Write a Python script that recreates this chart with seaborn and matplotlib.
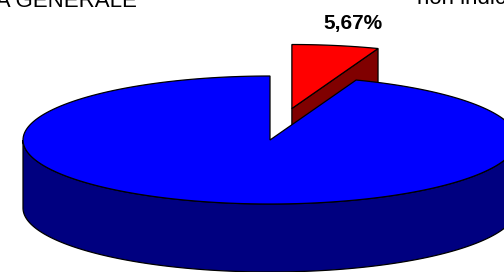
import numpy as np
import matplotlib.pyplot as plt
import seaborn as sns

# data (clockwise from 12 o'clock)
categorie = ["quota", "resto"]
valori = [5.67, 94.33]
etichette = ["5,67%", ""]
colori_top = ["#FF0000", "#0000FF"]
colori_lato = ["#800000", "#000080"]
esploso = [0.5, 0.0]

titolo_sx = "MEDIA GENERALE"
titolo_dx = "non indicato"

sns.set_theme(style="white")
plt.rcParams['font.family'] = ['Liberation Sans', 'DejaVu Sans']

# pie geometry in pixel units
cx, cy = 270, 140
rx, ry = 247, 64
depth = 68


def rim(theta, dx=0.0, dy=0.0, down=0.0):
    # theta in degrees, clockwise from 12 o'clock
    t = np.radians(theta)
    return cx + dx + rx * np.sin(t), cy + dy - ry * np.cos(t) + down


fig = plt.figure(figsize=(5.04, 2.72), dpi=100)
ax = fig.add_axes([0, 0, 1, 1])
ax.set_xlim(0, 504)
ax.set_ylim(272, 0)
ax.axis('off')

angoli = np.cumsum([0] + [v / sum(valori) * 360 for v in valori])
for i in range(len(valori)):
    a0, a1 = angoli[i], angoli[i + 1]
    mid = np.radians((a0 + a1) / 2)
    ox = esploso[i] * rx * np.sin(mid)
    oy = -esploso[i] * ry * np.cos(mid)
    th = np.linspace(a0, a1, 200)
    z = 1 + 2 * (esploso[i] == 0)

    # front wall (rim between 90 and 270 deg)
    lo, hi = max(a0, 90), min(a1, 270)
    if lo < hi:
        tw = np.linspace(lo, hi, 200)
        xt, yt = rim(tw, ox, oy)
        xb, yb = rim(tw[::-1], ox, oy, depth)
        ax.fill(np.r_[xt, xb], np.r_[yt, yb], color=colori_lato[i],
                ec='black', lw=0.9, zorder=z)

    # cut face at the end angle, turned toward the viewer
    if 0 < a1 < 180:
        x1, y1 = rim(a1, ox, oy)
        px = [cx + ox, x1, x1, cx + ox]
        py = [cy + oy, y1, y1 + depth, cy + oy + depth]
        ax.fill(px, py, color=colori_lato[i], ec='black', lw=0.9, zorder=z)

    # top face
    xs, ys = rim(th, ox, oy)
    ax.fill(np.r_[cx + ox, xs], np.r_[cy + oy, ys], color=colori_top[i],
            ec='black', lw=0.9, zorder=z + 0.5)

    if etichette[i]:
        lx, ly = rim(np.degrees(mid), ox, oy)
        ax.text(lx + 17, ly - 22, etichette[i], ha='center', va='center',
                fontsize=15, fontweight='bold', color='black', zorder=5)

ax.text(137, 7, titolo_sx, ha='right', va='baseline', fontsize=16,
        color='black', clip_on=False)
ax.text(417, 4, titolo_dx, ha='left', va='baseline', fontsize=16,
        color='black', clip_on=False)

fig.savefig("out.png", dpi=100)
